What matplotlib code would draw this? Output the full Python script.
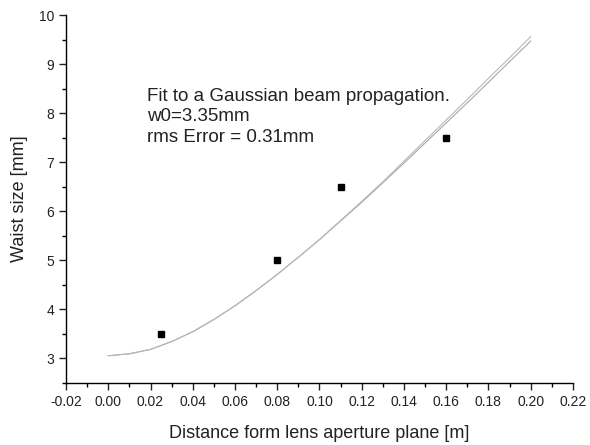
import matplotlib
matplotlib.use("Agg")
import matplotlib.pyplot as plt
from matplotlib.ticker import MultipleLocator, FormatStrFormatter

plt.rcParams['font.family'] = ['Liberation Sans', 'DejaVu Sans']

# measured waist sizes
dist = [0.025, 0.08, 0.11, 0.16]
waist = [3.5, 5.0, 6.5, 7.5]

# fitted curve (two nearly overlapping traces)
fit_x = [0.00, 0.01, 0.02, 0.03, 0.04, 0.05, 0.06, 0.07, 0.08, 0.09, 0.10,
         0.11, 0.12, 0.13, 0.14, 0.15, 0.16, 0.17, 0.18, 0.19, 0.20]
fit_a = [3.05, 3.09, 3.18, 3.34, 3.54, 3.79, 4.07, 4.38, 4.71, 5.06, 5.42,
         5.80, 6.18, 6.58, 6.98, 7.39, 7.80, 8.21, 8.63, 9.05, 9.47]
fit_b = [3.05, 3.09, 3.18, 3.34, 3.54, 3.79, 4.07, 4.38, 4.71, 5.06, 5.42,
         5.81, 6.20, 6.60, 7.02, 7.44, 7.86, 8.28, 8.71, 9.13, 9.56]

fig = plt.figure(figsize=(5.9, 4.45), dpi=100)
ax = fig.add_axes([0.112, 0.14, 0.859, 0.826])

ax.plot(fit_x, fit_a, color='#a8a8a8', lw=0.8)
ax.plot(fit_x, fit_b, color='#b8b8b8', lw=0.8)
ax.plot(dist, waist, 's', color='black', markersize=5)

ax.set_xlim(-0.02, 0.22)
ax.set_ylim(2.5, 10)
ax.xaxis.set_major_locator(MultipleLocator(0.02))
ax.xaxis.set_minor_locator(MultipleLocator(0.01))
ax.xaxis.set_major_formatter(FormatStrFormatter('%.2f'))
ax.yaxis.set_major_locator(MultipleLocator(1))
ax.yaxis.set_minor_locator(MultipleLocator(0.5))

for s in ['top', 'right']:
    ax.spines[s].set_visible(False)
for s in ['left', 'bottom']:
    ax.spines[s].set_linewidth(1.0)

ax.tick_params(which='major', direction='out', length=5, width=1, labelsize=10, colors='#222222')
ax.tick_params(which='minor', direction='out', length=3, width=1)

ax.set_xlabel('Distance form lens aperture plane [m]', fontsize=13, color='#222222', labelpad=12)
ax.set_ylabel('Waist size [mm]', fontsize=13, color='#222222', labelpad=8)

ax.text(0.0184, 8.52, 'Fit to a Gaussian beam propagation.\nw0=3.35mm\nrms Error = 0.31mm',
        fontsize=13.5, color='#222222', va='top', ha='left', linespacing=1.27)

fig.savefig('out.png', dpi=100, facecolor='white')
